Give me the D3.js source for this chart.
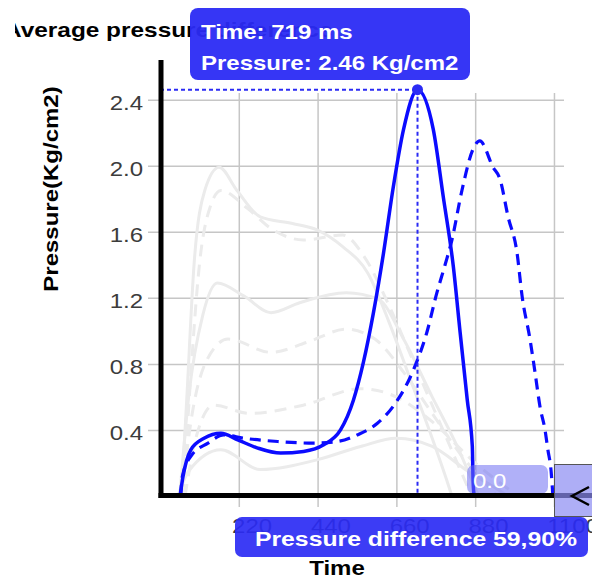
<!DOCTYPE html>
<html>
<head>
<meta charset="utf-8">
<script src="https://cdn.jsdelivr.net/npm/d3@7"></script>
<style>
  body { margin: 0; background: #fff; }
  svg { display: block; }
  text { font-family: "Liberation Sans", Arial, sans-serif; }
</style>
</head>
<body>
<svg id="chart" width="592" height="579"></svg>
<script>
// Current measurement (solid blue)
const currentTime     = [56, 64, 86, 123, 170, 217, 273, 337, 401, 457, 504, 540, 568, 596, 624, 652, 680, 719, 763, 791, 819, 838, 858, 872, 874, 877];
const currentPressure = [0, 0.115, 0.28, 0.35, 0.38, 0.34, 0.29, 0.26, 0.27, 0.31, 0.40, 0.58, 0.81, 1.11, 1.47, 1.88, 2.22, 2.46, 2.22, 1.81, 1.39, 0.99, 0.58, 0.30, 0.10, 0];

// Reference measurement (dashed blue)
const previousTime     = [58, 62, 86, 134, 178, 234, 329, 429, 496, 551, 607, 650, 707, 745, 773, 796, 815, 843, 874, 893, 930, 949, 972, 997, 1011, 1033, 1047, 1061, 1075, 1083, 1092, 1097];
const previousPressure = [0, 0.115, 0.24, 0.32, 0.37, 0.35, 0.33, 0.32, 0.33, 0.37, 0.44, 0.54, 0.76, 0.99, 1.23, 1.40, 1.55, 1.85, 2.10, 2.15, 1.99, 1.92, 1.69, 1.47, 1.21, 0.95, 0.75, 0.54, 0.40, 0.28, 0.15, 0];

// Older measurements (light grey), [time ms, pressure]
const history1 = [[60,0],[75,0.6],[95,1.4],[125,1.85],[165,1.99],[215,1.85],[280,1.69],[370,1.65],[440,1.61],[510,1.51],[580,1.35],[640,1.05],[700,0.7],[760,0.35],[800,0.1],[815,0]];
const history2 = [[65,0],[85,0.7],[110,1.4],[140,1.75],[170,1.85],[245,1.74],[310,1.62],[400,1.55],[510,1.58],[570,1.45],[640,1.15],[720,0.75],[790,0.4],[850,0.1],[870,0]];
const history3 = [[55,0],[80,0.6],[120,1.1],[160,1.29],[235,1.21],[310,1.11],[390,1.17],[520,1.23],[610,1.19],[680,0.95],[760,0.6],[830,0.3],[870,0.1],[890,0]];
const history4 = [[60,0],[90,0.5],[130,0.82],[190,0.95],[310,0.87],[410,0.93],[520,1.01],[600,0.95],[680,0.75],[760,0.5],[840,0.25],[920,0.05],[940,0]];
const history5 = [[50,0],[80,0.15],[170,0.28],[280,0.16],[440,0.22],[560,0.3],[660,0.35],[760,0.3],[860,0.15],[950,0.03],[970,0]];
const history6 = [[70,0],[100,0.35],[150,0.55],[250,0.5],[400,0.55],[560,0.65],[660,0.6],[760,0.45],[880,0.2],[1000,0]];

const xTicks = [220, 440, 660, 880, 1100];
const yTicks = [0.4, 0.8, 1.2, 1.6, 2.0, 2.4];

const peakTime = 719;
const peakPressure = 2.46;
const pressureDifference = "59,90%";
const sliderValue = "0.0";

const BLUE = "#0b0bff";
const BOX_BLUE = "#2b2bf4";
const WIDE = 1.2;   // the UI font runs wide

const svg = d3.select("#chart");

const x = d3.scaleLinear().domain([0, 1128]).range([160, 564]);
const y = d3.scaleLinear().domain([0, 2.64]).range([496, 60]);

// Text helper: positioned, optionally rotated, widened along its baseline
function label(parent, px, py, str, opts = {}) {
  const rot = opts.rotate ? ` rotate(${opts.rotate})` : "";
  return parent.append("text")
    .attr("transform", `translate(${px},${py})${rot} scale(${opts.sx || WIDE},1)`)
    .attr("text-anchor", opts.anchor || "start")
    .attr("font-size", opts.size || 20)
    .attr("font-weight", opts.bold ? "bold" : "normal")
    .attr("fill", opts.fill || "#000")
    .text(str);
}

// Title (clipped on the left)
svg.append("clipPath").attr("id", "titleClip")
  .append("rect").attr("x", 15).attr("y", 0).attr("width", 400).attr("height", 60);
const titleGroup = svg.append("g").attr("clip-path", "url(#titleClip)");
label(titleGroup, 4, 37, "Average pressure difference", { bold: true, sx: 1.22 });

// Grid + tick labels
const gy = svg.append("g").attr("transform", "translate(148,0)")
  .call(d3.axisLeft(y).tickValues(yTicks).tickFormat(d3.format(".1f")).tickSize(-416).tickPadding(5));
const gx = svg.append("g").attr("transform", "translate(0,507)")
  .call(d3.axisBottom(x).tickValues(xTicks).tickFormat(d3.format("d")).tickSize(-414).tickPadding(12));
[gx, gy].forEach(g => {
  g.select(".domain").remove();
  g.selectAll(".tick line").attr("stroke", "#c6c6c6").attr("stroke-width", 1.5);
  g.selectAll(".tick text").attr("fill", "#3c3c3c").attr("font-size", 20)
    .attr("font-family", "Liberation Sans, Arial, sans-serif")
    .attr("transform", `scale(${WIDE},1)`);
});
gy.selectAll(".tick text").attr("x", -5 / WIDE).attr("dy", "0.5em");
gx.selectAll(".tick text").attr("text-anchor", "start").attr("dx", -6);

// Lines
const line = d3.line().x(d => x(d[0])).y(d => y(d[1])).curve(d3.curveMonotoneX);
const histories = [history1, history2, history3, history4, history5, history6];
histories.forEach((h, i) => {
  svg.append("path").datum(h)
    .attr("d", line).attr("fill", "none")
    .attr("stroke", "#ebebeb").attr("stroke-width", 3)
    .attr("stroke-dasharray", i % 2 ? "12,8" : null);
});

const current = currentTime.map((t, i) => [t, currentPressure[i]]);
const previous = previousTime.map((t, i) => [t, previousPressure[i]]);

svg.append("path").datum(previous)
  .attr("d", line).attr("fill", "none")
  .attr("stroke", BLUE).attr("stroke-width", 3.2)
  .attr("stroke-dasharray", "11,7");
svg.append("path").datum(current)
  .attr("d", line).attr("fill", "none")
  .attr("stroke", BLUE).attr("stroke-width", 3.5);

// Crosshair at the peak
svg.append("line")
  .attr("x1", x(0)).attr("x2", x(peakTime))
  .attr("y1", y(peakPressure)).attr("y2", y(peakPressure))
  .attr("stroke", BOX_BLUE).attr("stroke-width", 2).attr("stroke-dasharray", "4,3");
svg.append("line")
  .attr("x1", x(peakTime)).attr("x2", x(peakTime))
  .attr("y1", y(peakPressure)).attr("y2", y(0))
  .attr("stroke", BOX_BLUE).attr("stroke-width", 2).attr("stroke-dasharray", "4,3");
svg.append("circle")
  .attr("cx", x(peakTime)).attr("cy", y(peakPressure)).attr("r", 5.5)
  .attr("fill", BOX_BLUE);

// Slider value badge
svg.append("rect").attr("x", 467).attr("y", 465).attr("width", 81).attr("height", 29).attr("rx", 7)
  .attr("fill", "#7070f2").attr("fill-opacity", 0.55);
label(svg, 473, 488, sliderValue, { fill: "#fff" });

// Axes
svg.append("line").attr("x1", 161).attr("x2", 161).attr("y1", 60).attr("y2", 498)
  .attr("stroke", "#000").attr("stroke-width", 5);
svg.append("line").attr("x1", 158.5).attr("x2", 592).attr("y1", 495.5).attr("y2", 495.5)
  .attr("stroke", "#000").attr("stroke-width", 5);

// Slider handle
svg.append("rect").attr("x", 554.5).attr("y", 464.5).attr("width", 40).attr("height", 52)
  .attr("fill", "#8c8cf2").attr("fill-opacity", 0.7).attr("stroke", "#555").attr("stroke-width", 1);
svg.append("path").attr("d", "M589,487 L572,496 L589,505")
  .attr("fill", "none").attr("stroke", "#000").attr("stroke-width", 2.5);

// Axis titles
label(svg, 337, 575, "Time", { anchor: "middle", bold: true });
label(svg, 58, 189, "Pressure(Kg/cm2)", { anchor: "middle", bold: true, rotate: -90 });

// Pressure difference banner
svg.append("rect").attr("x", 235).attr("y", 517).attr("width", 353).attr("height", 40).attr("rx", 7)
  .attr("fill", BOX_BLUE).attr("fill-opacity", 0.92);
label(svg, 416, 546, "Pressure difference " + pressureDifference,
  { anchor: "middle", bold: true, size: 21, sx: 1.18, fill: "#fff" });

// Peak tooltip
svg.append("rect").attr("x", 190).attr("y", 8).attr("width", 280).attr("height", 72).attr("rx", 8)
  .attr("fill", BOX_BLUE).attr("fill-opacity", 0.95);
label(svg, 201, 39, `Time: ${peakTime} ms`, { bold: true, fill: "#fff" });
label(svg, 201, 70, `Pressure: ${peakPressure.toFixed(2)} Kg/cm2`, { bold: true, fill: "#fff" });
</script>
</body>
</html>
